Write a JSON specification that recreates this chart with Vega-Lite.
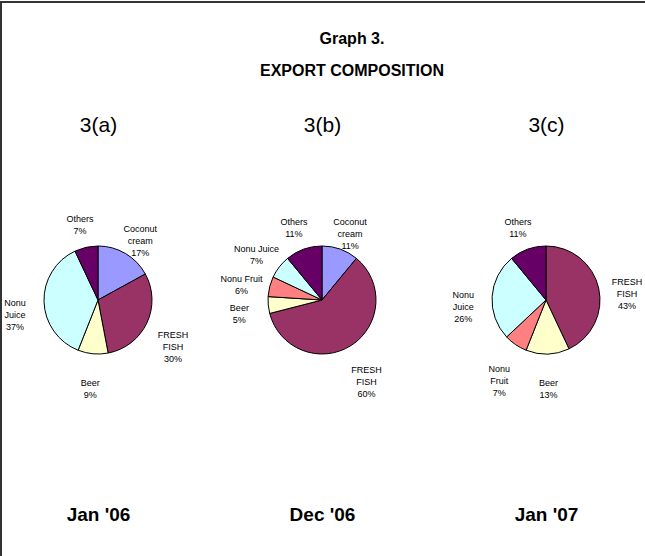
{
  "$schema": "https://vega.github.io/schema/vega-lite/v6.json",
  "width": 664,
  "height": 574,
  "autosize": "none",
  "padding": {"left": 1, "top": 2, "right": -20, "bottom": -20},
  "background": "white",
  "title": {
    "text": "Graph 3.",
    "subtitle": "EXPORT COMPOSITION",
    "anchor": "middle",
    "frame": "group",
    "offset": -77,
    "dx": 19,
    "font": "Liberation Sans, Arial, sans-serif",
    "fontSize": 16,
    "fontWeight": "bold",
    "color": "black",
    "subtitleFont": "Liberation Sans, Arial, sans-serif",
    "subtitleFontSize": 16,
    "subtitleFontWeight": "bold",
    "subtitleColor": "black",
    "subtitlePadding": 16
  },
  "data": {
    "values": [
      {"panel": "3(a)", "period": "Jan '06", "order": 1, "category": "Coconut cream", "label": "Coconut\ncream", "value": 17},
      {"panel": "3(a)", "period": "Jan '06", "order": 2, "category": "FRESH FISH", "label": "FRESH\nFISH", "value": 30},
      {"panel": "3(a)", "period": "Jan '06", "order": 3, "category": "Beer", "label": "Beer", "value": 9},
      {"panel": "3(a)", "period": "Jan '06", "order": 4, "category": "Nonu Juice", "label": "Nonu\nJuice", "value": 37},
      {"panel": "3(a)", "period": "Jan '06", "order": 5, "category": "Others", "label": "Others", "value": 7},
      {"panel": "3(b)", "period": "Dec '06", "order": 1, "category": "Coconut cream", "label": "Coconut\ncream", "value": 11},
      {"panel": "3(b)", "period": "Dec '06", "order": 2, "category": "FRESH FISH", "label": "FRESH\nFISH", "value": 60},
      {"panel": "3(b)", "period": "Dec '06", "order": 3, "category": "Beer", "label": "Beer", "value": 5},
      {"panel": "3(b)", "period": "Dec '06", "order": 4, "category": "Nonu Fruit", "label": "Nonu Fruit", "value": 6},
      {"panel": "3(b)", "period": "Dec '06", "order": 5, "category": "Nonu Juice", "label": "Nonu Juice", "value": 7},
      {"panel": "3(b)", "period": "Dec '06", "order": 6, "category": "Others", "label": "Others", "value": 11},
      {"panel": "3(c)", "period": "Jan '07", "order": 1, "category": "FRESH FISH", "label": "FRESH\nFISH", "value": 43},
      {"panel": "3(c)", "period": "Jan '07", "order": 2, "category": "Beer", "label": "Beer", "value": 13},
      {"panel": "3(c)", "period": "Jan '07", "order": 3, "category": "Nonu Fruit", "label": "Nonu\nFruit", "value": 7},
      {"panel": "3(c)", "period": "Jan '07", "order": 4, "category": "Nonu Juice", "label": "Nonu\nJuice", "value": 26},
      {"panel": "3(c)", "period": "Jan '07", "order": 5, "category": "Others", "label": "Others", "value": 11}
    ]
  },
  "transform": [
    {"stack": "value", "groupby": ["panel"], "sort": [{"field": "order", "order": "ascending"}], "as": ["v0", "v1"]},
    {"calculate": "(datum.v0 + datum.v1) / 2", "as": "mid"},
    {"calculate": "datum.label + '\\n' + datum.value + '%'", "as": "labelText"}
  ],
  "layer": [
    {
      "mark": {"type": "arc", "outerRadius": 54, "stroke": "black", "strokeWidth": 1},
      "encoding": {
        "x": {
          "field": "panel", "type": "nominal", "sort": null,
          "scale": {"type": "point", "range": [97, 545], "padding": 0},
          "axis": {
            "orient": "top", "offset": -129, "title": null, "domain": false, "ticks": false, "grid": false,
            "labelPadding": 0, "labelAngle": 0, "labelBaseline": "alphabetic",
            "labelFont": "Liberation Sans, Arial, sans-serif",
            "labelFontSize": 21, "labelColor": "black"
          }
        },
        "y": {"value": 298},
        "theta": {"field": "v0", "type": "quantitative", "scale": {"domain": [0, 100], "range": [0, 6.283185307179586]}},
        "theta2": {"field": "v1"},
        "color": {
          "field": "category", "type": "nominal", "legend": null,
          "scale": {
            "domain": ["Coconut cream", "FRESH FISH", "Beer", "Nonu Fruit", "Nonu Juice", "Others"],
            "range": ["#9999FF", "#993366", "#FFFFCC", "#FF8080", "#CCFFFF", "#660066"]
          }
        }
      }
    },
    {
      "mark": {
        "type": "text", "radius": 83, "align": "center", "baseline": "middle",
        "lineBreak": "\n", "lineHeight": 12,
        "font": "Liberation Sans, Arial, sans-serif",
        "fontSize": 9, "color": "black"
      },
      "encoding": {
        "x": {
          "field": "period", "type": "nominal", "sort": null,
          "scale": {"type": "point", "range": [97, 545], "padding": 0},
          "axis": {
            "orient": "bottom", "offset": -56, "title": null, "domain": false, "ticks": false, "grid": false,
            "labelPadding": 0, "labelAngle": 0, "labelBaseline": "alphabetic",
            "labelFont": "Liberation Sans, Arial, sans-serif",
            "labelFontSize": 19, "labelFontWeight": "bold", "labelColor": "black"
          }
        },
        "y": {"value": 298},
        "theta": {"field": "mid", "type": "quantitative", "scale": {"domain": [0, 100], "range": [0, 6.283185307179586]}},
        "text": {"field": "labelText"}
      }
    }
  ],
  "resolve": {"scale": {"x": "independent"}},
  "config": {
    "view": {"stroke": "#333333", "strokeWidth": 2}
  }
}
